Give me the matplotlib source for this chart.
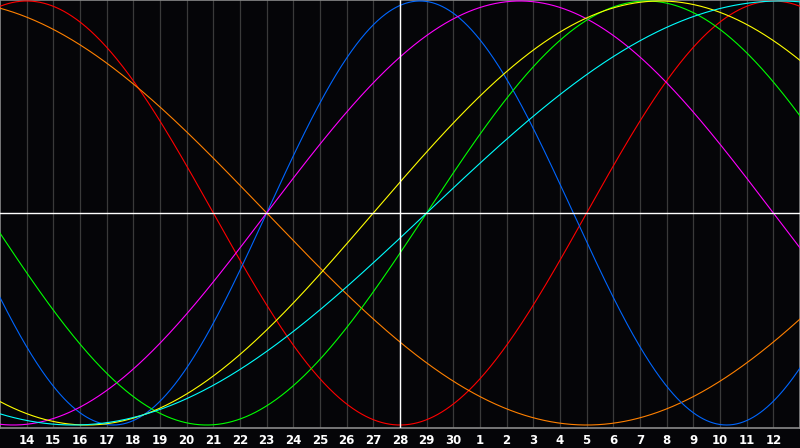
import numpy as np
import matplotlib
matplotlib.use('Agg')
import matplotlib.pyplot as plt

# Biorhythm cycles: period (days) and the day index where each one crosses
# zero going upwards (day index 0 = left edge of the chart)
cycle_names = ['emotional', 'awareness', 'physical', 'intuitive',
               'intellectual', 'aesthetic', 'spiritual']
periods = [28, 48, 23, 38, 33, 43, 53]
rising_zero_day = [22, 34, 10, 10, 16, 14, 16]
colors = ['#ff0000', '#ff8000', '#0066ff', '#ff00ff',
          '#00ff00', '#ffff00', '#00ffff']

# x axis: one tick per day, the chart spans 30 days
day_labels = ['14', '15', '16', '17', '18', '19', '20', '21', '22', '23',
              '24', '25', '26', '27', '28', '29', '30', '1', '2', '3', '4',
              '5', '6', '7', '8', '9', '10', '11', '12']
n_days = 30
today_index = 15  # day 28

fig = plt.figure(figsize=(8, 4.48), dpi=100, facecolor='#050508')
ax = fig.add_axes([0, 20 / 448, 1, 428 / 448])
ax.set_facecolor('#050508')

days = np.linspace(0, n_days, 1200)
for period, zero_day, color in zip(periods, rising_zero_day, colors):
    values = np.sin(2 * np.pi * (days - zero_day) / period)
    ax.plot(days, values, color=color, lw=0.8, zorder=3)

# day grid
tick_pos = np.arange(1, n_days)
for x in tick_pos:
    ax.axvline(x, color='#3a3a3a', lw=0.9, zorder=1)

# today + zero line
ax.axvline(today_index, color='white', lw=1.0, zorder=4)
ax.axhline(0, color='white', lw=1.0, zorder=4)

ax.set_xlim(0, n_days)
ax.set_ylim(-1 - 3 / 212, 1 + 1 / 212)
ax.set_yticks([])
ax.set_xticks(tick_pos)
ax.set_xticklabels(day_labels, color='white', fontsize=8.5,
                   fontweight='bold', family='DejaVu Sans')
ax.tick_params(axis='x', length=0, pad=4)

for side in ['left', 'top', 'bottom', 'right']:
    ax.spines[side].set_color('#8a8a8a')
    ax.spines[side].set_linewidth(1.2)

fig.savefig('out.png', dpi=100, facecolor=fig.get_facecolor())
